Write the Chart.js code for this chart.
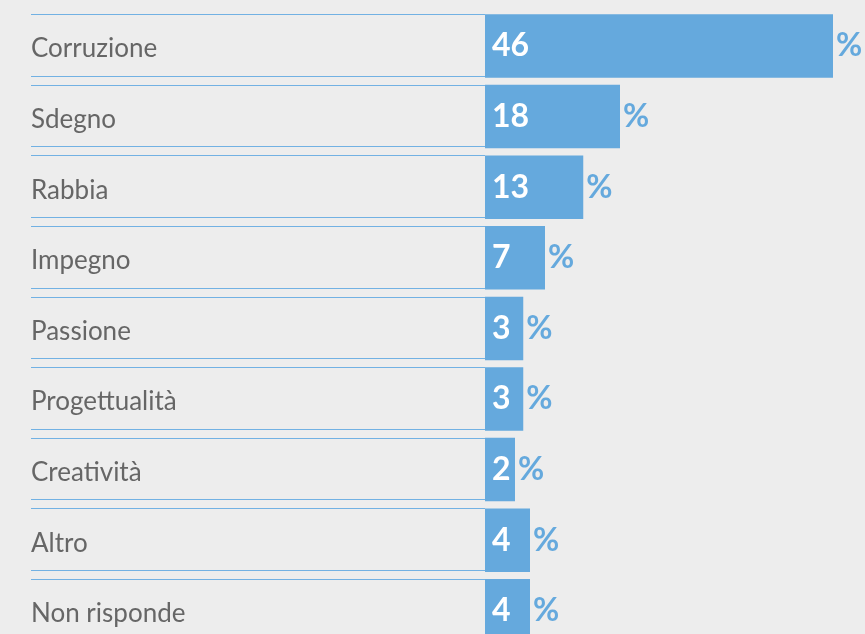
<!DOCTYPE html>
<html>
<head>
<meta charset="utf-8">
<script src="https://cdn.jsdelivr.net/npm/chart.js@4"></script>
<style>
  html, body { margin: 0; padding: 0; background: #ededed; overflow: hidden; }
  canvas { display: block; }
</style>
</head>
<body>
<canvas id="grafico" width="865" height="650"></canvas>
<script>
// categorie
const categorie = ['Corruzione', 'Sdegno', 'Rabbia', 'Impegno', 'Passione', 'Progettualità', 'Creatività', 'Altro', 'Non risponde'];
// percentuali mostrate
const valori = [46, 18, 13, 7, 3, 3, 2, 4, 4];
// lunghezza delle barre come appare nel grafico (le piccole sono allungate)
const lunghezze = [46.4, 18, 13.1, 8, 5.1, 5.1, 4, 6, 6];

const BLU = '#65a9dd';
const LINEA = '#72b1e3';

// righe con bordo sopra e sotto
const righe = {
  id: 'righe',
  beforeDatasetsDraw(chart) {
    const ctx = chart.ctx;
    const meta = chart.getDatasetMeta(0);
    ctx.save();
    ctx.strokeStyle = LINEA;
    ctx.lineWidth = 1;
    meta.data.forEach(bar => {
      const top = bar.y - bar.height / 2;
      const bottom = bar.y + bar.height / 2;
      ctx.beginPath();
      ctx.moveTo(31, Math.round(top) + 0.5);
      ctx.lineTo(bar.base, Math.round(top) + 0.5);
      ctx.moveTo(31, Math.round(bottom) - 1.5);
      ctx.lineTo(bar.base, Math.round(bottom) - 1.5);
      ctx.stroke();
    });
    ctx.restore();
  }
};

// numeri bianchi dentro la barra e % fuori
const etichette = {
  id: 'etichette',
  afterDatasetsDraw(chart) {
    const ctx = chart.ctx;
    const meta = chart.getDatasetMeta(0);
    ctx.save();
    ctx.font = 'bold 32px Lato';
    ctx.textBaseline = 'middle';
    ctx.textAlign = 'left';
    meta.data.forEach((bar, i) => {
      ctx.fillStyle = '#ffffff';
      ctx.fillText(String(valori[i]), bar.base + 7, bar.y);
      ctx.fillStyle = BLU;
      ctx.fillText('%', bar.x + 3, bar.y);
    });
    ctx.restore();
  }
};

new Chart(document.getElementById('grafico'), {
  type: 'bar',
  data: {
    labels: categorie,
    datasets: [{
      data: lunghezze,
      backgroundColor: BLU,
      borderWidth: 0,
      categoryPercentage: 0.9,
      barPercentage: 1
    }]
  },
  options: {
    indexAxis: 'y',
    responsive: false,
    animation: false,
    devicePixelRatio: 1,
    layout: { padding: { left: 31, right: 5, top: 10.7, bottom: 3.9 } },
    plugins: { legend: { display: false }, tooltip: { enabled: false } },
    scales: {
      x: { display: false, min: 0, max: 50 },
      y: {
        grid: { display: false },
        border: { display: false },
        afterFit(scale) {
          scale.width = 454;
          scale.paddingTop = 0;
          scale.paddingBottom = 0;
        },
        ticks: {
          crossAlign: 'far',
          labelOffset: 3,
          color: '#666666',
          font: { family: 'Lato', size: 26 }
        }
      }
    }
  },
  plugins: [righe, etichette]
});
</script>
</body>
</html>
